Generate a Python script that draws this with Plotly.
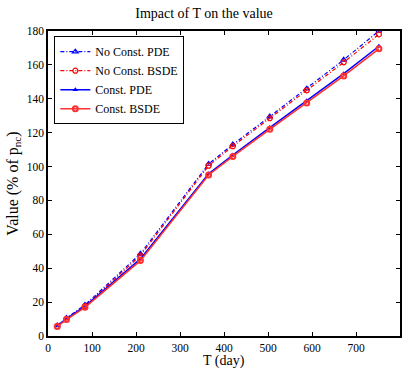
import plotly.graph_objects as go

T = [21, 42, 84, 210, 365, 420, 504, 588, 672, 752]
no_const_pde = [6.2, 10.6, 18.3, 48.5, 101.5, 113.0, 129.5, 146.0, 163.0, 180.0]
no_const_bsde = [5.8, 10.1, 17.6, 47.5, 100.5, 112.0, 128.5, 145.0, 161.5, 178.0]
const_pde = [6.0, 10.2, 17.5, 45.5, 95.8, 106.8, 123.0, 138.8, 154.8, 171.0]
const_bsde = [5.6, 9.7, 16.9, 44.5, 95.0, 106.0, 122.0, 137.5, 153.5, 169.5]

x_ticks = [0, 100, 200, 300, 400, 500, 600, 700, 800]
y_ticks = [0, 20, 40, 60, 80, 100, 120, 140, 160, 180]

FONT = "Liberation Serif, Times New Roman, serif"
dashdot = "4px,2px,1px,2px"

fig = go.Figure()
fig.add_trace(go.Scatter(x=T, y=no_const_pde, name="No Const. PDE", mode="lines+markers",
                         line=dict(color="#0000ff", width=1.2, dash=dashdot),
                         marker=dict(symbol="triangle-up-open", size=5, color="#0000ff", line=dict(width=1.2))))
fig.add_trace(go.Scatter(x=T, y=no_const_bsde, name="No Const. BSDE", mode="lines+markers",
                         line=dict(color="#ff0000", width=1.2, dash=dashdot),
                         marker=dict(symbol="circle-open", size=5, color="#ff0000", line=dict(width=1.2))))
fig.add_trace(go.Scatter(x=T, y=const_pde, name="Const. PDE", mode="lines+markers",
                         line=dict(color="#0000ff", width=1.5),
                         marker=dict(symbol="triangle-up", size=5, color="#0000ff")))
fig.add_trace(go.Scatter(x=T, y=const_bsde, name="Const. BSDE", mode="lines+markers",
                         line=dict(color="#ff3030", width=1.5),
                         marker=dict(symbol="circle-open", size=5, color="#ff3030", line=dict(width=2))))

axis_common = dict(showline=True, linecolor="black", linewidth=1.5, mirror="ticks",
                   ticks="inside", ticklen=4, tickcolor="black", tickwidth=1,
                   showgrid=False, zeroline=False, automargin=False,
                   tickfont=dict(family=FONT, size=11.5, color="black"))

fig.update_layout(
    width=408, height=370,
    margin=dict(l=48, r=8, t=31, b=34),
    paper_bgcolor="white", plot_bgcolor="white",
    title=dict(text="Impact of T on the value", x=0.5, xanchor="center", y=0.965, yanchor="middle",
               font=dict(family=FONT, size=14, color="black")),
    xaxis=dict(range=[0, 800], tickvals=x_ticks, ticktext=[str(v) for v in x_ticks],
               **axis_common),
    yaxis=dict(range=[0, 180], tickvals=y_ticks, ticktext=[str(v) for v in y_ticks],
               title=dict(text="Value (% of p<sub>nc</sub>)", font=dict(family=FONT, size=16, color="black"), standoff=4),
               **axis_common),
    legend=dict(x=0.018, y=0.983, xanchor="left", yanchor="top", bgcolor="white",
                bordercolor="black", borderwidth=1, tracegroupgap=0, itemwidth=30,
                font=dict(family=FONT, size=12, color="black")),
    showlegend=True,
    annotations=[dict(text="T (day)", xref="paper", yref="paper", x=0.5, y=-0.1115,
                      xanchor="center", yanchor="bottom", showarrow=False, borderpad=0,
                      font=dict(family=FONT, size=14, color="black"))],
)

fig.write_html("out.html")
